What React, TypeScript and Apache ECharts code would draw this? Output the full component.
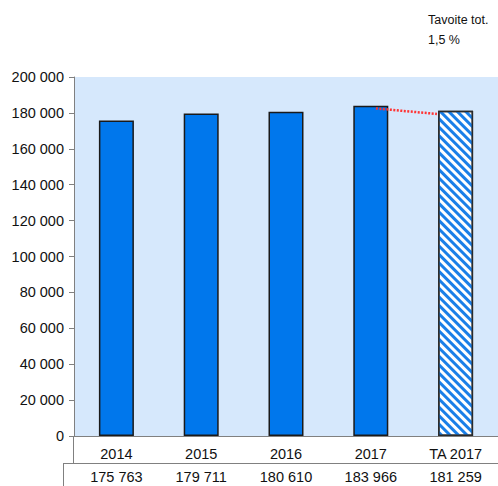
import React, { useEffect, useRef } from "react";
import * as echarts from "echarts";

const categories = ["2014", "2015", "2016", "2017", "TA 2017"];
const values = [175763, 179711, 180610, 183966, 181259];
const yTicks = { min: 0, max: 200000, interval: 20000 };
const targetLine = [
  [3.56, 182500],
  [4.28, 179400],
];
const noteLines = ["Tavoite tot.", "1,5 %"];

const FONT = "'Liberation Sans', Arial, sans-serif";

function fmt(v: number): string {
  return String(v).replace(/\B(?=(\d{3})+(?!\d))/g, " ");
}

export default function App() {
  const ref = useRef<HTMLDivElement>(null);
  useEffect(() => {
    if (!ref.current) return;
    const chart = echarts.init(ref.current, undefined, { renderer: "svg" });
    const barData = values.map((v, i) =>
      i === values.length - 1
        ? {
            value: v,
            itemStyle: {
              color: "#ffffff",
              borderColor: "#2a2a2a",
              borderWidth: 1.5,
              decal: {
                symbol: "rect",
                symbolSize: 1,
                color: "#1a7fe8",
                dashArrayX: [1, 0],
                dashArrayY: [3, 3],
                rotation: Math.PI / 4,
              },
            },
          }
        : v
    );
    chart.setOption({
      animation: false,
      textStyle: { fontFamily: FONT },
      grid: {
        left: 74,
        top: 77,
        width: 428,
        height: 359,
        show: true,
        backgroundColor: "#D6E8FC",
        borderWidth: 0,
      },
      xAxis: [
        {
          type: "category",
          data: categories,
          position: "bottom",
          axisLine: { show: true, lineStyle: { color: "#808080", width: 1 } },
          axisTick: { show: false },
          axisLabel: { color: "#111", fontSize: 14.5, fontFamily: FONT, margin: 10 },
        },
        {
          type: "category",
          data: values.map(fmt),
          position: "bottom",
          offset: 23,
          axisLine: { show: false },
          axisTick: { show: false },
          axisLabel: { color: "#111", fontSize: 14.5, fontFamily: FONT, margin: 10 },
        },
        {
          type: "value",
          min: 0,
          max: 5,
          show: false,
        },
      ],
      yAxis: {
        type: "value",
        min: yTicks.min,
        max: yTicks.max,
        interval: yTicks.interval,
        axisLine: { show: true, lineStyle: { color: "#808080", width: 1 } },
        axisTick: { show: true, length: 5, lineStyle: { color: "#808080" } },
        splitLine: { show: false },
        axisLabel: {
          color: "#111",
          fontSize: 14.5,
          fontFamily: FONT,
          margin: 10,
          formatter: (v: number) => fmt(v),
        },
      },
      series: [
        {
          type: "bar",
          xAxisIndex: 0,
          data: barData,
          barWidth: 35,
          itemStyle: { color: "#0077EC", borderColor: "#1a1a1a", borderWidth: 1.5 },
        },
        {
          type: "line",
          xAxisIndex: 2,
          data: targetLine,
          symbol: "none",
          lineStyle: { color: "#FF3333", width: 2.5, type: [2, 1.5], cap: "butt" },
          z: 5,
        },
      ],
      graphic: [
        {
          type: "text",
          left: 428,
          top: 10,
          style: {
            text: noteLines.join("\n"),
            fontSize: 12.5,
            lineHeight: 20,
            fontFamily: FONT,
            fill: "#111",
          },
        },
        { type: "line", shape: { x1: 73.5, y1: 436, x2: 73.5, y2: 463 }, style: { stroke: "#808080", lineWidth: 1 } },
        { type: "line", shape: { x1: 63, y1: 463.5, x2: 498, y2: 463.5 }, style: { stroke: "#808080", lineWidth: 1 } },
        { type: "line", shape: { x1: 63.5, y1: 463, x2: 63.5, y2: 486 }, style: { stroke: "#808080", lineWidth: 1 } },
      ],
    });
    return () => chart.dispose();
  }, []);
  return (
    <div
      ref={ref}
      style={{ position: "fixed", left: 0, top: 0, width: 498, height: 486, background: "#fff" }}
    />
  );
}
